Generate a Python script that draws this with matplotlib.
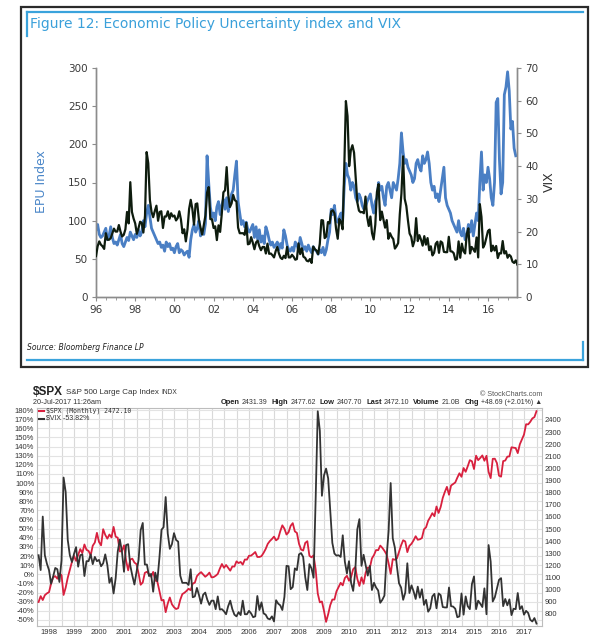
import numpy as np
import matplotlib
matplotlib.use('Agg')
import matplotlib.pyplot as plt
from matplotlib.lines import Line2D
from matplotlib.patches import Rectangle
from matplotlib.ticker import MultipleLocator

W, H = 601, 642

# ---------------- data ----------------
# Economic Policy Uncertainty index, monthly from Jan 1996
epu = [
    88, 95, 82, 78, 80, 85, 90, 75, 80, 92, 78, 70,        # 1996
    72, 68, 75, 82, 70, 66, 72, 78, 74, 85, 80, 75,        # 1997
    82, 78, 88, 80, 85, 100, 92, 110, 120, 105, 90, 85,    # 1998
    80, 75, 70, 72, 65, 68, 60, 72, 66, 70, 62, 64,        # 1999
    58, 66, 70, 58, 62, 60, 55, 58, 60, 52, 75, 88,        # 2000
    95, 85, 90, 100, 80, 88, 82, 96, 185, 150, 118, 105,   # 2001
    110, 100, 118, 125, 108, 120, 128, 115, 130, 112, 125, 135,  # 2002
    140, 160, 178, 125, 110, 95, 100, 92, 98, 88, 85, 90,  # 2003
    95, 78, 92, 75, 88, 72, 80, 70, 92, 85, 75, 68,        # 2004
    72, 65, 68, 72, 62, 70, 64, 88, 80, 68, 62, 60,        # 2005
    65, 60, 72, 68, 62, 78, 70, 62, 66, 60, 68, 62,        # 2006
    58, 66, 62, 60, 56, 62, 58, 65, 55, 62, 75, 85,        # 2007
    115, 108, 120, 100, 98, 105, 110, 100, 145, 175, 160, 155,  # 2008
    140, 150, 145, 130, 125, 135, 130, 120, 115, 118, 125, 130,  # 2009
    135, 120, 110, 125, 130, 150, 140, 145, 130, 120, 145, 150,  # 2010
    140, 130, 150, 145, 140, 155, 175, 215, 190, 175, 180, 170,  # 2011
    165, 160, 150, 155, 175, 180, 170, 165, 185, 175, 180, 190,  # 2012
    175, 150, 140, 145, 130, 135, 125, 140, 155, 170, 130, 120,  # 2013
    115, 110, 100, 95, 90, 85, 100, 85, 80, 90, 75, 80,    # 2014
    95, 85, 100, 80, 95, 110, 100, 150, 190, 140, 160, 150,  # 2015
    170, 155, 130, 120, 150, 255, 260, 180, 135, 150, 265, 275,  # 2016
    295, 270, 220, 230, 195, 185,                          # 2017
]

# VIX monthly close from Jan 1996
vix = [
    12.5, 15.5, 17.0, 16.0, 15.5, 14.7, 19.5, 17.5, 17.5, 18.0, 19.5, 20.9,   # 1996
    20.0, 20.0, 22.0, 20.0, 18.5, 19.0, 20.7, 26.0, 22.5, 35.1, 26.0, 24.0,   # 1997
    22.5, 19.3, 21.0, 23.0, 22.7, 19.7, 24.8, 44.3, 40.9, 29.6, 26.0, 24.4,   # 1998
    26.3, 27.9, 23.3, 26.0, 26.2, 21.1, 24.6, 24.6, 26.2, 23.9, 25.6, 24.6,   # 1999
    24.9, 23.4, 24.1, 26.2, 23.7, 19.5, 20.7, 17.0, 20.6, 26.9, 29.7, 26.9,   # 2000
    22.1, 28.4, 28.6, 23.6, 21.2, 19.1, 22.0, 24.9, 31.9, 33.6, 23.8, 23.8,   # 2001
    21.1, 21.6, 17.4, 21.9, 19.9, 25.4, 32.0, 32.6, 39.7, 31.1, 27.5, 28.6,   # 2002
    31.2, 29.6, 29.2, 21.2, 19.5, 19.5, 19.5, 19.0, 22.7, 16.1, 16.3, 18.3,   # 2003
    16.6, 14.6, 16.7, 17.2, 15.5, 14.3, 15.3, 15.3, 13.3, 16.3, 13.2, 13.3,   # 2004
    12.8, 12.1, 14.0, 15.3, 13.3, 12.0, 11.6, 12.6, 11.9, 15.3, 12.1, 12.1,   # 2005
    12.9, 12.3, 11.4, 11.6, 16.4, 13.1, 14.9, 12.3, 12.0, 11.1, 10.9, 11.6,   # 2006
    10.4, 15.4, 14.6, 14.2, 13.1, 16.2, 23.5, 23.4, 18.0, 18.5, 22.9, 22.5,   # 2007
    26.2, 26.5, 25.6, 20.8, 17.8, 23.9, 22.9, 20.7, 39.4, 59.9, 55.3, 40.0,   # 2008
    44.8, 46.4, 44.1, 36.5, 28.9, 26.4, 25.9, 26.0, 25.6, 30.7, 24.5, 21.7,   # 2009
    24.6, 19.5, 17.6, 22.1, 32.1, 34.5, 23.5, 26.1, 23.7, 21.2, 23.5, 17.8,   # 2010
    19.5, 18.4, 17.7, 14.8, 15.5, 16.5, 25.3, 31.6, 43.0, 30.0, 27.8, 23.4,   # 2011
    19.4, 18.4, 15.5, 17.2, 24.1, 17.1, 18.9, 17.5, 15.7, 18.6, 16.0, 18.0,   # 2012
    14.3, 15.5, 12.7, 13.5, 16.3, 16.9, 13.5, 17.0, 16.6, 13.8, 13.7, 13.7,   # 2013
    18.4, 14.0, 13.9, 13.4, 11.4, 11.6, 17.0, 12.0, 16.3, 14.0, 13.3, 19.2,   # 2014
    21.0, 13.3, 15.3, 14.6, 13.8, 18.2, 12.1, 28.4, 24.5, 15.1, 16.1, 18.2,   # 2015
    20.2, 20.6, 14.0, 15.7, 14.2, 15.6, 11.9, 13.4, 13.3, 17.1, 13.3, 14.0,   # 2016
    12.0, 12.9, 12.4, 10.8, 10.4, 11.2, 9.9,                                  # 2017
]

# S&P 500 monthly close from Aug 1997
spx = [
    899, 947, 915, 955, 970,                                                  # 1997
    980, 1049, 1102, 1112, 1091, 1134, 1121, 957, 1017, 1099, 1164, 1229,     # 1998
    1280, 1238, 1286, 1335, 1302, 1373, 1329, 1320, 1283, 1363, 1389, 1469,   # 1999
    1394, 1366, 1499, 1452, 1421, 1455, 1431, 1518, 1437, 1429, 1315, 1320,   # 2000
    1366, 1240, 1160, 1249, 1256, 1224, 1211, 1134, 1041, 1060, 1139, 1148,   # 2001
    1130, 1107, 1147, 1077, 1067, 990, 912, 916, 815, 886, 936, 880,          # 2002
    856, 841, 848, 917, 964, 975, 990, 1008, 996, 1051, 1058, 1112,           # 2003
    1131, 1145, 1126, 1107, 1121, 1141, 1102, 1104, 1115, 1130, 1174, 1212,   # 2004
    1181, 1204, 1181, 1157, 1192, 1191, 1234, 1220, 1229, 1207, 1249, 1248,   # 2005
    1280, 1281, 1295, 1311, 1270, 1270, 1277, 1304, 1336, 1378, 1401, 1418,   # 2006
    1438, 1407, 1421, 1482, 1531, 1503, 1455, 1474, 1527, 1549, 1481, 1468,   # 2007
    1379, 1331, 1323, 1386, 1400, 1280, 1267, 1283, 1166, 969, 896, 903,      # 2008
    826, 735, 798, 873, 919, 919, 987, 1021, 1057, 1036, 1096, 1115,          # 2009
    1074, 1104, 1169, 1187, 1089, 1031, 1102, 1049, 1141, 1183, 1181, 1258,   # 2010
    1286, 1327, 1326, 1364, 1345, 1321, 1292, 1219, 1131, 1253, 1247, 1258,   # 2011
    1312, 1366, 1408, 1398, 1310, 1362, 1379, 1407, 1441, 1412, 1416, 1426,   # 2012
    1498, 1515, 1569, 1598, 1631, 1606, 1686, 1633, 1682, 1757, 1806, 1848,   # 2013
    1783, 1859, 1872, 1884, 1924, 1960, 1931, 2003, 1972, 2018, 2068, 2059,   # 2014
    1995, 2105, 2068, 2086, 2107, 2063, 2104, 1972, 1920, 2079, 2080, 2044,   # 2015
    1940, 1932, 2060, 2065, 2097, 2099, 2174, 2171, 2168, 2126, 2199, 2239,   # 2016
    2279, 2364, 2363, 2384, 2412, 2423, 2472,                                 # 2017
]
vix_base = 21.5   # VIX level of the performance base

top_xtick_years = list(range(1996, 2017, 2))
top_xtick_labels = ['96', '98', '00', '02', '04', '06', '08', '10', '12', '14', '16']
bot_years = list(range(1998, 2018))
pct_ticks = list(range(-50, 181, 10))
price_ticks = list(range(800, 2401, 100))

# --------------- helpers ---------------
def fx(x):
    return x / W

def fy(y):
    return 1 - y / H

SC_FONT = ['Liberation Sans', 'DejaVu Sans']

fig = plt.figure(figsize=(W / 100, H / 100), dpi=100)
fig.patch.set_facecolor('white')
renderer = fig.canvas.get_renderer()

def seq_text(items, x0, y, right=None):
    """Place text pieces one after another; items = (string, kwargs, gap_px)."""
    texts, x = [], x0
    for s, kw, gap in items:
        t = fig.text(fx(x), fy(y), s, va='center', ha='left', **kw)
        w = t.get_window_extent(renderer).width
        texts.append((t, x))
        x += w + gap
    if right is not None:
        shift = right - (x - items[-1][2])
        for t, xx in texts:
            t.set_x(fx(xx + shift))

# ======== TOP CHART ========
BLUE_FRAME = '#3aa3dc'
fig.add_artist(Rectangle((fx(21), fy(367)), (588 - 21) / W, (367 - 7) / H,
                         transform=fig.transFigure, fill=False, ec='#2b2b2b', lw=1.6))
for (x0, y0, x1, y1) in [(27, 12, 583, 12), (27, 12, 27, 36), (27, 360, 583, 360), (583, 342, 583, 360)]:
    fig.add_artist(Line2D([fx(x0), fx(x1)], [fy(y0), fy(y1)], transform=fig.transFigure,
                          color=BLUE_FRAME, lw=1.6))
fig.text(fx(30), fy(24), 'Figure 12: Economic Policy Uncertainty index and VIX',
         color='#3aa0da', fontsize=10, ha='left', va='center', family='DejaVu Sans')
fig.text(fx(27), fy(348), 'Source: Bloomberg Finance LP', color='#222222', fontsize=5.5,
         style='italic', ha='left', va='center')

ax1 = fig.add_axes([fx(96), fy(297), (517 - 96) / W, (297 - 68) / H])
t_epu = 1996 + np.arange(len(epu)) / 12
t_vix = 1996 + np.arange(len(vix)) / 12
ax1.plot(t_epu, epu, color='#4a7fc4', lw=2.0, zorder=2)
ax1.set_xlim(1996, 2017.48)
ax1.set_ylim(0, 300)
ax1.set_yticks([0, 50, 100, 150, 200, 250, 300])
ax1.set_xticks(top_xtick_years)
ax1.set_xticklabels(top_xtick_labels)
ax1.xaxis.set_minor_locator(MultipleLocator(0.5))
ax2 = ax1.twinx()
ax2.plot(t_vix, vix, color='#0e1c0e', lw=1.6, zorder=3)
ax2.set_ylim(0, 70)
ax2.set_yticks(range(0, 71, 10))
for a in (ax1, ax2):
    a.spines['top'].set_visible(False)
    for s in ('left', 'right', 'bottom'):
        a.spines[s].set_color('#8c8c8c')
        a.spines[s].set_linewidth(1.0)
    a.tick_params(axis='both', which='major', length=3, color='#8c8c8c', labelsize=7.5,
                  labelcolor='#3a3a3a', direction='out', pad=3)
    a.tick_params(axis='x', which='minor', length=2, color='#8c8c8c', direction='out')
    a.patch.set_visible(False)
ax1.set_zorder(1)
ax2.set_zorder(2)
fig.text(fx(42), fy(182), 'EPU Index', color='#4a86c8', fontsize=9, rotation=90,
         ha='center', va='center')
fig.text(fx(549), fy(182), 'VIX', color='#303030', fontsize=9, rotation=90,
         ha='center', va='center')

# ======== BOTTOM CHART ========
rect_b = [fx(37), fy(626), (542 - 37) / W, (626 - 408) / H]
XL = (1997.52, 2017.72)
YL = (-56.6, 182.2)

# grid layer
axg = fig.add_axes(rect_b)
axg.set_xlim(*XL)
axg.set_ylim(*YL)
axg.set_xticks(bot_years)
axg.xaxis.set_minor_locator(MultipleLocator(0.5))
axg.set_yticks(pct_ticks)
axg.grid(True, which='both', axis='x', color='#d9d9d9', lw=0.8)
axg.grid(True, which='major', axis='y', color='#e3e3e3', lw=0.8)
axg.tick_params(which='both', length=0, labelleft=False, labelbottom=False)
for s in axg.spines.values():
    s.set_color('#bdbdbd')
    s.set_linewidth(0.8)
axg.set_zorder(1)

# price layer (SPX, right axis)
axr = fig.add_axes(rect_b)
t_b = 1997 + 7 / 12 + np.arange(len(spx)) / 12
axr.plot(t_b, spx, color='#d8203e', lw=1.3)
axr.set_xlim(*XL)
axr.set_ylim(701, 2498)
axr.yaxis.tick_right()
axr.set_yticks(price_ticks)
axr.set_xticks([])
axr.patch.set_visible(False)
axr.set_zorder(2)

# percent layer (VIX, left axis)
axb = fig.add_axes(rect_b)
vix_b = np.array(vix[19:])
vix_pct = (vix_b / vix_base - 1) * 100
axb.plot(t_b[:len(vix_pct)], vix_pct, color='#333333', lw=1.3)
axb.set_xlim(*XL)
axb.set_ylim(*YL)
axb.set_yticks(pct_ticks)
axb.set_yticklabels([f'{v}%' for v in pct_ticks])
axb.set_xticks(bot_years)
axb.set_xticklabels([str(y) for y in bot_years])
axb.patch.set_visible(False)
axb.set_zorder(3)

for a in (axr, axb):
    for s in a.spines.values():
        s.set_visible(False)
    a.tick_params(axis='both', which='both', length=0, labelsize=5.5, labelcolor='#333333', pad=2)
    for lab in a.get_xticklabels() + a.get_yticklabels():
        lab.set_family(SC_FONT)

# header texts
seq_text([('$SPX', dict(fontsize=8.5, fontweight='bold', color='#222222', family=SC_FONT), 3),
          ('S&P 500 Large Cap Index', dict(fontsize=5.8, color='#333333', family=SC_FONT), 3),
          ('INDX', dict(fontsize=4.8, color='#333333', family=SC_FONT), 0)], 33, 392)
fig.text(fx(33), fy(402), '20-Jul-2017 11:26am', fontsize=5.2, color='#333333', va='center',
         family=SC_FONT)
fig.text(fx(542), fy(394), '\u00a9 StockCharts.com', fontsize=5.2, color='#555555', ha='right',
         va='center', family=SC_FONT)

B = dict(fontsize=5.4, fontweight='bold', color='#222222', family=SC_FONT)
N = dict(fontsize=5.0, color='#333333', family=SC_FONT)
seq_text([('Open', B, 2), ('2431.39', N, 4), ('High', B, 2), ('2477.62', N, 4),
          ('Low', B, 2), ('2407.70', N, 4), ('Last', B, 2), ('2472.10', N, 4),
          ('Volume', B, 2), ('21.0B', N, 4), ('Chg', B, 2), ('+48.69 (+2.01%) \u25b2', N, 0)],
         239, 403, right=542)

# legend
fig.add_artist(Line2D([fx(39), fx(44)], [fy(411), fy(411)], transform=fig.transFigure,
                      color='#d8203e', lw=1.5))
fig.add_artist(Line2D([fx(39), fx(44)], [fy(418.5), fy(418.5)], transform=fig.transFigure,
                      color='#333333', lw=1.5))
fig.text(fx(46), fy(411), '$SPX (Monthly) 2472.10', fontsize=4.7, family='DejaVu Sans Mono',
         color='#333333', va='center')
fig.text(fx(46), fy(418.5), '$VIX -53.82%', fontsize=5.0, color='#333333', va='center',
         family=SC_FONT)

fig.savefig('out.png', dpi=100, facecolor='white')
